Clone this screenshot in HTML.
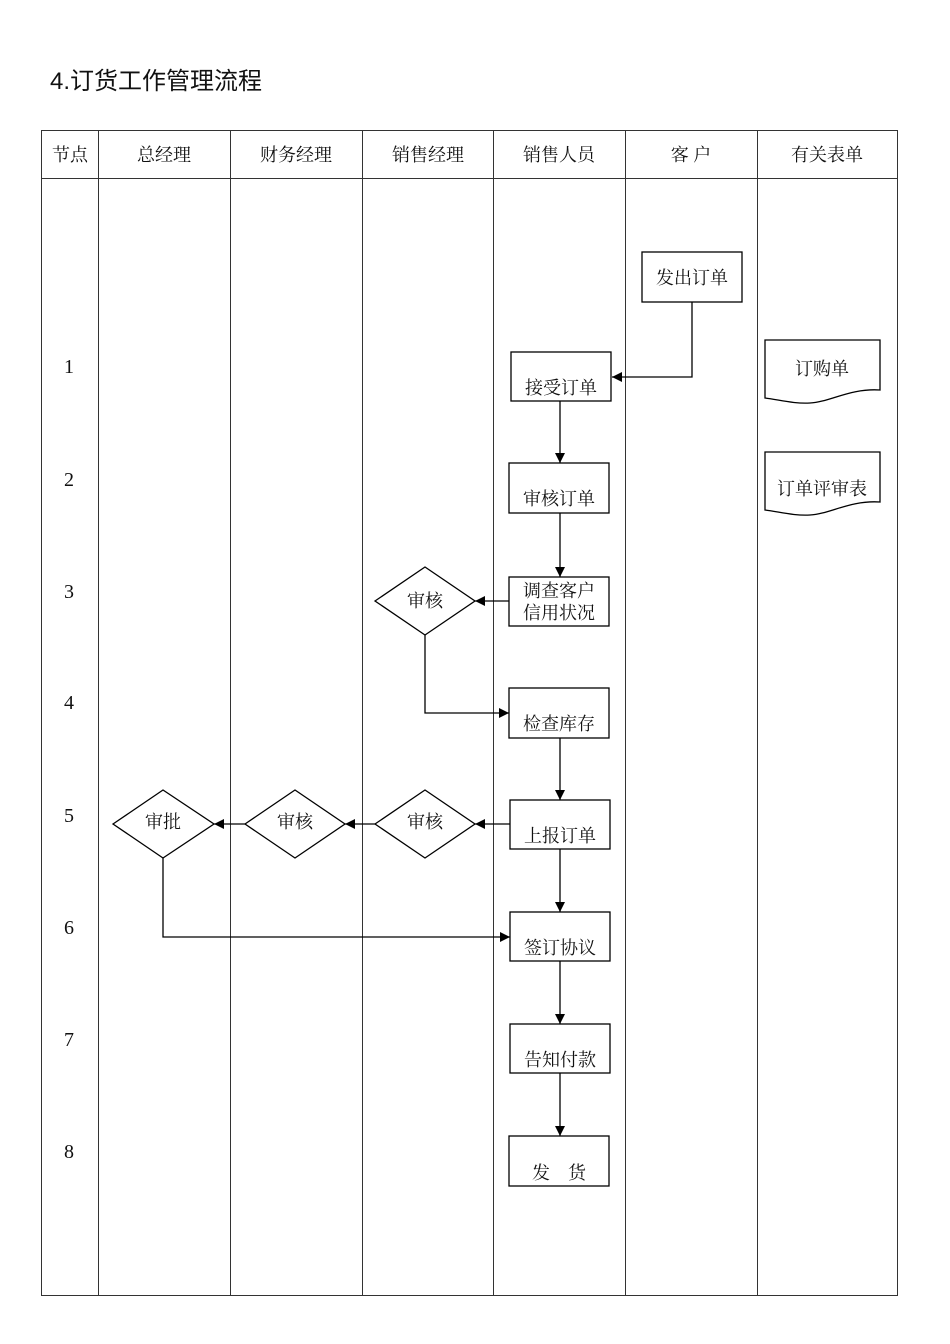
<!DOCTYPE html>
<html><head><meta charset="utf-8"><style>
html,body{margin:0;padding:0;background:#fff;}
svg{display:block;}
text{font-family:"Liberation Serif","Noto Serif CJK SC","Noto Sans CJK SC",serif;fill:#111;}
.s{font-family:"Liberation Sans","Noto Sans CJK SC",sans-serif;}
</style></head><body>
<svg width="950" height="1344" viewBox="0 0 950 1344" xmlns="http://www.w3.org/2000/svg">
<defs><marker id="a" markerWidth="10" markerHeight="10" refX="10" refY="5" orient="auto" markerUnits="userSpaceOnUse"><path d="M0,0 L10,5 L0,10 z" fill="#000"/></marker></defs>
<text x="50" y="89" font-size="24" class="s">4.订货工作管理流程</text>
<g stroke="#333" stroke-width="1" fill="none">
<rect x="41.5" y="130.5" width="856" height="1165"/>
<line x1="41" y1="178.5" x2="897" y2="178.5"/>
<line x1="98.5" y1="130" x2="98.5" y2="1295"/>
<line x1="230.5" y1="130" x2="230.5" y2="1295"/>
<line x1="362.5" y1="130" x2="362.5" y2="1295"/>
<line x1="493.5" y1="130" x2="493.5" y2="1295"/>
<line x1="625.5" y1="130" x2="625.5" y2="1295"/>
<line x1="757.5" y1="130" x2="757.5" y2="1295"/>
</g>
<g font-size="18" text-anchor="middle" class="s">
<text x="70" y="161">节点</text><text x="164" y="161">总经理</text><text x="296" y="161">财务经理</text>
<text x="428" y="161">销售经理</text><text x="559" y="161">销售人员</text><text x="691" y="161">客 户</text><text x="827" y="161">有关表单</text>
</g>
<g font-size="20" text-anchor="middle">
<text x="69" y="373">1</text><text x="69" y="486">2</text><text x="69" y="598">3</text><text x="69" y="709">4</text>
<text x="69" y="822">5</text><text x="69" y="934">6</text><text x="69" y="1046">7</text><text x="69" y="1158">8</text>
</g>
<g stroke="#000" stroke-width="1.3" fill="#fff">
<rect x="642" y="252" width="100" height="50"/>
<rect x="511" y="352" width="100" height="49"/>
<rect x="509" y="463" width="100" height="50"/>
<rect x="509" y="577" width="100" height="49"/>
<rect x="509" y="688" width="100" height="50"/>
<rect x="510" y="800" width="100" height="49"/>
<rect x="510" y="912" width="100" height="49"/>
<rect x="510" y="1024" width="100" height="49"/>
<rect x="509" y="1136" width="100" height="50"/>
<polygon points="375,601 425,567 475,601 425,635"/>
<polygon points="375,824 425,790 475,824 425,858"/>
<polygon points="245,824 295,790 345,824 295,858"/>
<polygon points="113,824 163,790 214,824 163,858"/>
<path d="M765,340 L880,340 L880,390 C850,388 830,402 810,403 C795,404 780,400 765,398 Z"/>
<path d="M765,452 L880,452 L880,502 C850,500 830,514 810,515 C795,516 780,512 765,510 Z"/>
</g>
<g stroke="#000" stroke-width="1.3" fill="none" marker-end="url(#a)">
<polyline points="692,302 692,377 612,377"/>
<line x1="560" y1="401" x2="560" y2="463"/>
<line x1="560" y1="513" x2="560" y2="577"/>
<line x1="509" y1="601" x2="475" y2="601"/>
<polyline points="425,635 425,713 509,713"/>
<line x1="560" y1="738" x2="560" y2="800"/>
<line x1="510" y1="824" x2="475" y2="824"/>
<line x1="375" y1="824" x2="345" y2="824"/>
<line x1="245" y1="824" x2="214" y2="824"/>
<line x1="560" y1="849" x2="560" y2="912"/>
<polyline points="163,858 163,937 510,937"/>
<line x1="560" y1="961" x2="560" y2="1024"/>
<line x1="560" y1="1073" x2="560" y2="1136"/>
</g>
<g font-size="18" text-anchor="middle">
<text x="692" y="284">发出订单</text>
<text x="561" y="394">接受订单</text>
<text x="559" y="505">审核订单</text>
<text x="559" y="597">调查客户</text>
<text x="559" y="619">信用状况</text>
<text x="559" y="730">检查库存</text>
<text x="560" y="842">上报订单</text>
<text x="560" y="954">签订协议</text>
<text x="560" y="1066">告知付款</text>
<text x="559" y="1179">发&#160;&#160;&#160;&#160;货</text>
<text x="425" y="607">审核</text>
<text x="425" y="828">审核</text>
<text x="295" y="828">审核</text>
<text x="163" y="828">审批</text>
<text x="822" y="375">订购单</text>
<text x="822" y="495">订单评审表</text>
</g>
</svg>
</body></html>
